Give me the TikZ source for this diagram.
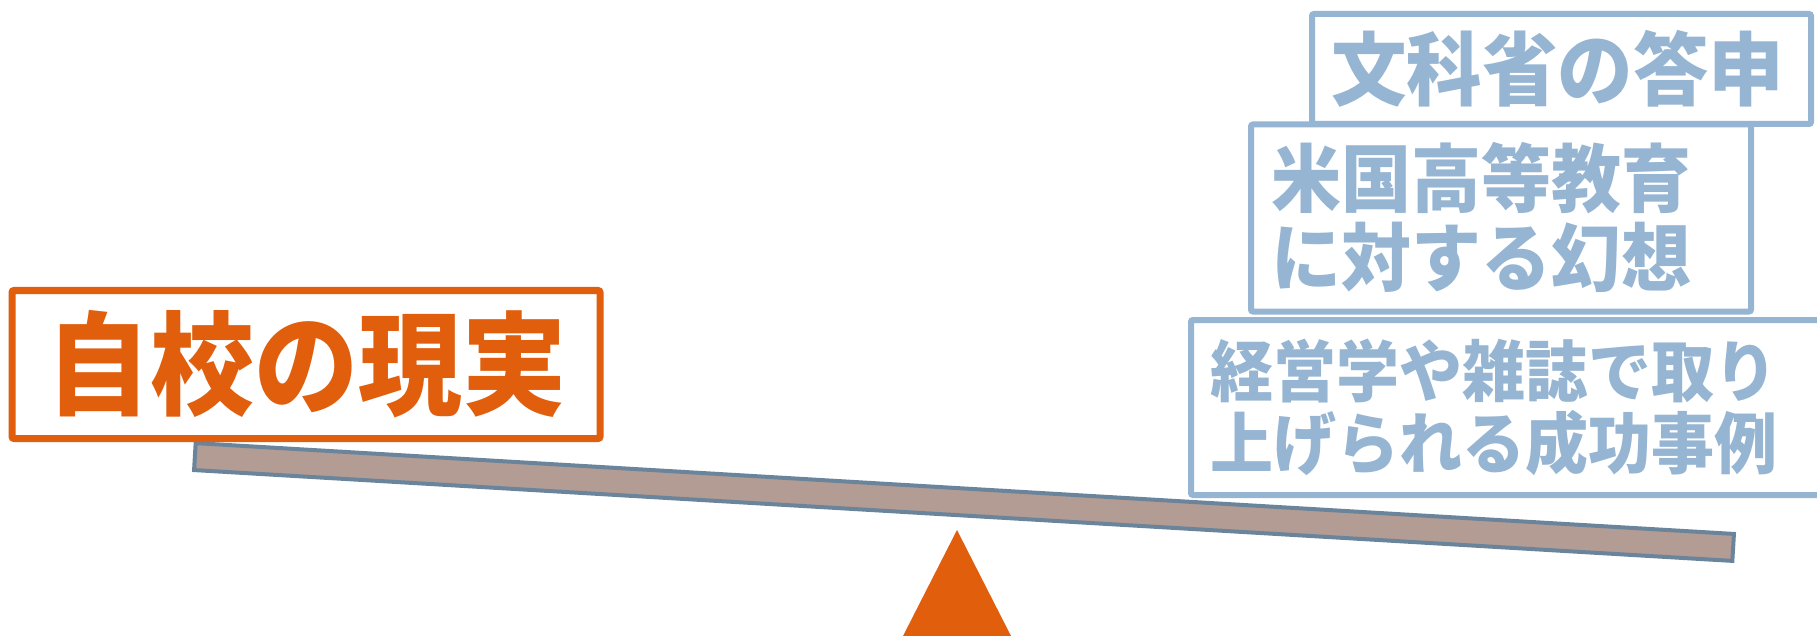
\documentclass[tikz,border=0pt]{standalone}
\usepackage{fontspec}
\usepackage{graphicx}
\newfontfamily\jp{Noto Sans CJK JP}
\newcommand{\tallline}[1]{\scalebox{1}[1.06]{#1}}
\newcommand{\tallorange}[1]{\scalebox{1}[1.08]{#1}}
\definecolor{orng}{RGB}{224,94,12}
\definecolor{lblue}{RGB}{149,181,211}
\definecolor{plankfill}{RGB}{179,156,148}
\definecolor{plankedge}{RGB}{106,132,156}
\begin{document}
\begin{tikzpicture}[x=1pt,y=-1pt,
  box/.style={draw, fill=white, rounded corners=2pt, inner ysep=0pt},
  obox/.style={box, draw=orng, line width=7pt, text=orng, inner xsep=0pt,
     font={\jp\bfseries\fontsize{104pt}{110pt}\selectfont}},
  bbox/.style={box, draw=lblue, line width=6pt, text=lblue, align=left},
  plankstyle/.style={draw=plankedge, fill=plankfill, line width=4pt, inner sep=0pt},
  fulcrum/.style={fill=orng}
]
\useasboundingbox (0,0) rectangle (1817,636);
% plank
\node[plankstyle, rotate=-3.38, minimum width=1541pt, minimum height=27pt] (plank) at (964,502) {};
% fulcrum
\coordinate (apex) at (957,530);
\coordinate (bl) at (903,636);
\coordinate (br) at (1011,636);
\fill[fulcrum] (apex) -- (bl) -- (br) -- cycle;
% left box
\node[obox, minimum width=588pt, minimum height=148pt] (real) at (306,364.5) {\tallorange{自校の現実}};
% right boxes
\node[bbox, minimum width=499pt, minimum height=110pt, inner xsep=19pt, text width=461pt,
  font={\jp\bfseries\fontsize{75.5pt}{80pt}\selectfont\lineskiplimit=-200pt}] (mext) at (1561.5,69) {\tallline{文科省の答申}};
\node[bbox, minimum width=500pt, minimum height=187pt, inner xsep=20pt, text width=460pt,
  font={\jp\bfseries\fontsize{70pt}{79pt}\selectfont\lineskiplimit=-200pt}] (usa) at (1501,218) {\tallline{米国高等教育}\\\tallline{に対する幻想}};
\node[bbox, minimum width=649pt, minimum height=175pt, inner xsep=19pt, text width=611pt,
  font={\jp\bfseries\fontsize{63pt}{72pt}\selectfont\lineskiplimit=-200pt}] (cases) at (1515.5,407.5) {\tallline{経営学や雑誌で取り}\\\tallline{上げられる成功事例}};
\end{tikzpicture}
\end{document}
